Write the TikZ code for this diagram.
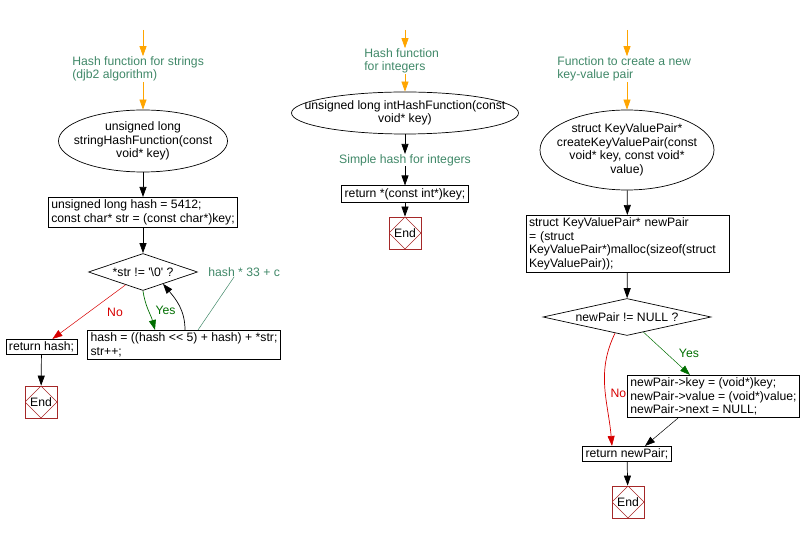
\documentclass[tikz,border=0pt]{standalone}
\usepackage{fontspec}
\setmainfont{Liberation Sans}[Ligatures=TeXOff]
\usepackage{tikz}
\usepackage{xcolor}
\usetikzlibrary{shapes.geometric,arrows.meta}

\definecolor{notegreen}{RGB}{64,136,104}
\definecolor{yesgreen}{RGB}{0,110,0}
\definecolor{nored}{RGB}{215,0,0}
\definecolor{endred}{RGB}{165,40,40}
\definecolor{startorange}{RGB}{255,165,0}

\begin{document}
\begin{tikzpicture}[x=1pt,y=-1pt,line width=0.7pt,
  >={Triangle[length=10pt,width=7pt]},
  font=\fontsize{12.2}{13.5}\selectfont,
  start node/.style={ellipse,draw,align=center,inner xsep=-30pt,inner ysep=-6pt},
  proc node/.style={rectangle,draw,align=left,inner xsep=3pt,inner ysep=2.5pt},
  cond node/.style={diamond,draw,inner sep=0pt},
  note node/.style={align=left,text=notegreen,inner sep=0pt},
  end node/.style={rectangle,draw=endred,minimum size=32pt,inner sep=0pt,
    path picture={\draw[endred,line width=0.6pt]
      (path picture bounding box.north) -- (path picture bounding box.east) --
      (path picture bounding box.south) -- (path picture bounding box.west) -- cycle;}},
  flow/.style={->},
  entry/.style={->,draw=startorange},
  branch label/.style={inner sep=1pt}]

  \useasboundingbox (0,0) rectangle (806,534);

  % string hash function
  \coordinate (in1) at (143,30);
  \node[note node,anchor=west] (note1) at (72,69) {Hash function for strings\\(djb2 algorithm)};
  \node[start node,minimum width=169pt,minimum height=62pt] (fn1) at (143,141)
    {unsigned long\\stringHashFunction(const\\void* key)};
  \node[proc node,anchor=north] (init1) at (143,197)
    {unsigned long hash = 5412;\\const char* str = (const char*)key;};
  \node[cond node,aspect=3,minimum width=109pt,minimum height=37pt] (test1) at (143,272)
    {*str != '\textbackslash 0' ?};
  \node[proc node,anchor=north] (step1) at (184,330)
    {hash = ((hash << 5) + hash) + *str;\\str++;};
  \node[note node,anchor=west] (note2) at (208,272) {hash * 33 + c};
  \node[proc node] (ret1) at (41.5,347) {return hash;};
  \node[end node] (end1) at (41,402) {End};

  \draw[entry] (in1) -- (in1 |- note1.north);
  \draw[entry] (fn1.north |- note1.south) -- (fn1);
  \draw[flow] (fn1) -- (init1);
  \draw[flow] (init1) -- (test1);
  \draw[flow,nored,line width=0.5pt] (test1) -- node[branch label,pos=0.5,anchor=west,xshift=17pt,text=nored] {No} (ret1);
  \draw[flow,yesgreen] (test1.south) to[out=-82,in=105]
    node[branch label,pos=0.5,anchor=west,xshift=6pt,text=yesgreen] {Yes} ([xshift=-29pt]step1.north);
  \draw[flow] ([xshift=1pt]step1.north) to[out=90,in=-50] ([xshift=20pt,yshift=7pt]test1.south);
  \draw[notegreen,line width=0.5pt] ([xshift=-10pt]note2.south) -- ([xshift=14pt]step1.north);
  \draw[flow] (ret1) -- (end1);

  % integer hash function
  \coordinate (in2) at (405,30);
  \node[note node,anchor=west] (note3) at (364,61) {Hash function\\for integers};
  \node[start node,minimum width=227pt,minimum height=42pt] (fn2) at (405,113)
    {unsigned long intHashFunction(const\\void* key)};
  \node[note node] (note4) at (405,160) {Simple hash for integers};
  \node[proc node] (ret2) at (405,194) {return *(const int*)key;};
  \node[end node] (end2) at (405,233) {End};

  \draw[entry] (in2) -- (in2 |- note3.north);
  \draw[entry] (fn2.north |- note3.south) -- (fn2);
  \draw[flow] (fn2) -- (note4);
  \draw[flow] (note4) -- (ret2);
  \draw[flow] (ret2) -- (end2);

  % create key-value pair
  \coordinate (in3) at (627,30);
  \node[note node,anchor=west] (note5) at (557,69) {Function to create a new\\key-value pair};
  \node[start node,minimum width=174pt,minimum height=80pt] (fn3) at (627,150)
    {struct KeyValuePair*\\createKeyValuePair(const\\void* key, const void*\\value)};
  \node[proc node,anchor=north,text width=197pt] (alloc3) at (627.5,215)
    {struct KeyValuePair* newPair\\= (struct\\KeyValuePair*)malloc(sizeof(struct\\KeyValuePair));};
  \node[cond node,aspect=4.5,minimum width=168pt,minimum height=37pt] (test3) at (627,317) {newPair != NULL ?};
  \node[proc node,anchor=north] (set3) at (713.5,375)
    {newPair->key = (void*)key;\\newPair->value = (void*)value;\\newPair->next = NULL;};
  \node[proc node] (ret3) at (627,454) {return newPair;};
  \node[end node] (end3) at (628,502) {End};

  \draw[entry] (in3) -- (in3 |- note5.north);
  \draw[entry] (fn3.north |- note5.south) -- (fn3);
  \draw[flow] (fn3) -- (alloc3);
  \draw[flow] (alloc3) -- (test3);
  \draw[flow,yesgreen,line width=0.5pt] (test3) --
    node[branch label,pos=0.5,anchor=west,xshift=11pt,text=yesgreen] {Yes} ([xshift=-23.5pt]set3.north);
  \draw[flow,nored] ([xshift=-12pt,yshift=2.6pt]test3.south) to[out=-116,in=95]
    node[branch label,pos=0.55,anchor=west,xshift=4pt,text=nored] {No} ([xshift=-15pt]ret3.north);
  \draw[flow,line width=0.5pt] ([xshift=-35.5pt]set3.south) -- ([xshift=18pt]ret3.north);
  \draw[flow] (ret3) -- (end3);
\end{tikzpicture}
\end{document}
